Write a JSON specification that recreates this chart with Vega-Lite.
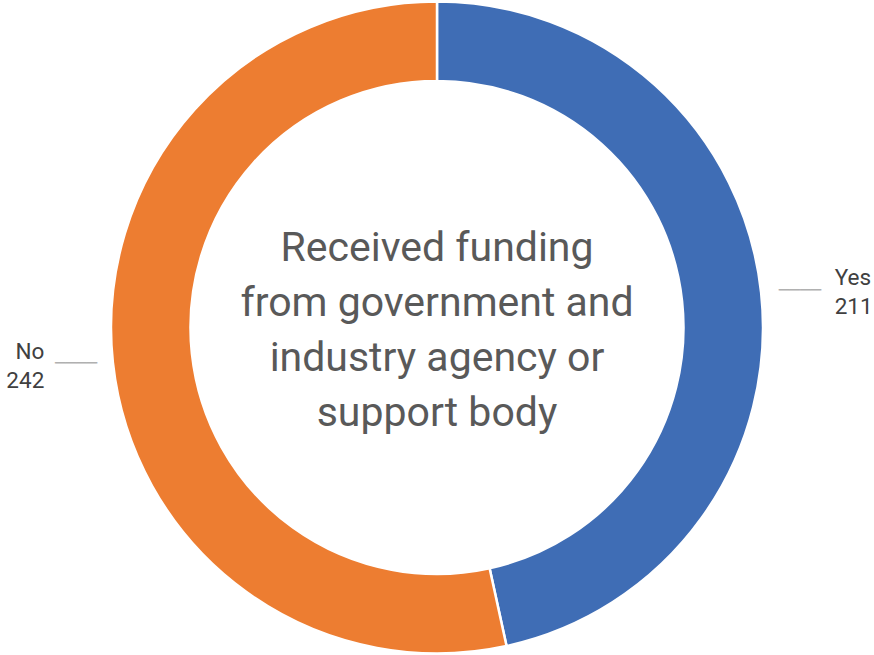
{
  "$schema": "https://vega.github.io/schema/vega-lite/v6.json",
  "width": 874,
  "height": 655,
  "autosize": {"type": "fit", "contains": "padding"},
  "padding": 0,
  "background": "white",
  "config": {"view": {"stroke": null}, "font": "Roboto"},
  "data": {
    "values": [
      {"answer": "Yes", "count": 211, "label": "Yes\n211"},
      {"answer": "No", "count": 242, "label": "No\n242"}
    ]
  },
  "encoding": {
    "theta": {"field": "count", "type": "quantitative", "stack": true},
    "order": {"field": "answer", "sort": "descending"}
  },
  "layer": [
    {
      "mark": {"type": "arc", "radius": 326, "radius2": 246.5, "stroke": "white", "strokeWidth": 2.5},
      "encoding": {
        "color": {
          "field": "answer",
          "type": "nominal",
          "scale": {"domain": ["Yes", "No"], "range": ["#3F6DB5", "#ED7D31"]},
          "legend": null
        }
      }
    },
    {
      "mark": {"type": "text", "radius": 365, "align": "center", "baseline": "middle", "dy": 3, "font": "DejaVu Sans Mono", "fontSize": 17.5, "color": "#b0b0b0"},
      "encoding": {
        "text": {"condition": {"test": "datum.answer === 'Yes'", "value": "────"}, "value": ""}
      }
    },
    {
      "mark": {"type": "text", "radius": 363, "align": "center", "baseline": "middle", "dy": -2, "font": "DejaVu Sans Mono", "fontSize": 17.5, "color": "#b0b0b0"},
      "encoding": {
        "text": {"condition": {"test": "datum.answer === 'No'", "value": "────"}, "value": ""}
      }
    },
    {
      "mark": {"type": "text", "radius": 400, "align": "left", "baseline": "middle", "dy": -7, "fontSize": 22.5, "lineHeight": 29, "lineBreak": "\n", "color": "#404040"},
      "encoding": {
        "text": {"condition": {"test": "datum.answer === 'Yes'", "field": "label"}, "value": ""}
      }
    },
    {
      "mark": {"type": "text", "radius": 395, "align": "right", "baseline": "middle", "dy": -18, "fontSize": 22.5, "lineHeight": 29, "lineBreak": "\n", "color": "#404040"},
      "encoding": {
        "text": {"condition": {"test": "datum.answer === 'No'", "field": "label"}, "value": ""}
      }
    },
    {
      "data": {"values": [{"title": "Received funding\nfrom government and\nindustry agency or\nsupport body"}]},
      "mark": {"type": "text", "align": "center", "baseline": "middle", "fontSize": 41, "lineHeight": 55, "lineBreak": "\n", "color": "#595959", "dy": -79},
      "encoding": {
        "theta": null,
        "order": null,
        "text": {"field": "title", "type": "nominal"}
      }
    }
  ]
}
